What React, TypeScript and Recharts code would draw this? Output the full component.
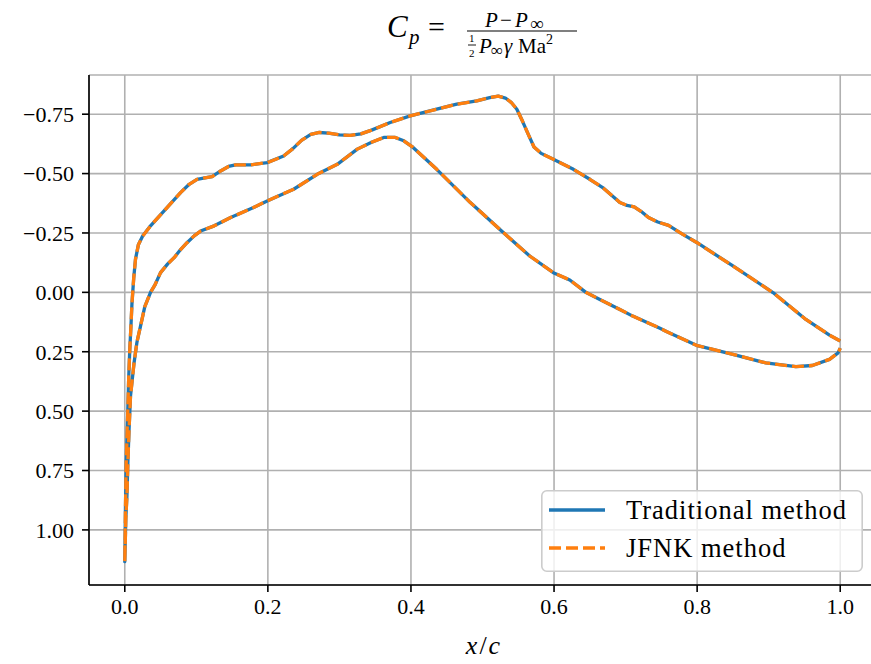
import React from 'react';
import { LineChart, Line, XAxis, YAxis, CartesianGrid, Legend } from 'recharts';

// Suction (upper) surface, leading edge -> trailing edge
const upperX = [
  0.0, 0.001, 0.002, 0.004, 0.0055, 0.007, 0.0085, 0.01, 0.0125, 0.015, 0.019, 0.025, 0.036,
  0.048, 0.06, 0.078, 0.09, 0.101, 0.112, 0.122, 0.134, 0.145, 0.155, 0.176, 0.199, 0.222,
  0.235, 0.247, 0.26, 0.272, 0.285, 0.3, 0.315, 0.33, 0.345, 0.371, 0.399, 0.436, 0.464,
  0.492, 0.51, 0.522, 0.532, 0.54, 0.548, 0.556, 0.564, 0.572, 0.582, 0.599, 0.627, 0.65,
  0.668, 0.68, 0.692, 0.702, 0.712, 0.722, 0.732, 0.745, 0.76, 0.78, 0.8, 0.85, 0.906,
  0.952, 0.985, 1.0,
];
const upperCp = [
  1.134, 0.9, 0.72, 0.52, 0.36, 0.24, 0.15, 0.05, -0.06, -0.14, -0.2, -0.237, -0.28,
  -0.32, -0.36, -0.42, -0.455, -0.476, -0.482, -0.487, -0.511, -0.53, -0.537, -0.537, -0.546, -0.574,
  -0.605, -0.64, -0.665, -0.673, -0.67, -0.663, -0.661, -0.667, -0.683, -0.715, -0.743, -0.771, -0.792,
  -0.806, -0.82, -0.826, -0.818, -0.8, -0.771, -0.72, -0.665, -0.612, -0.585, -0.56, -0.518, -0.476,
  -0.441, -0.41, -0.378, -0.366, -0.36, -0.34, -0.315, -0.296, -0.282, -0.244, -0.209, -0.111, 0.001,
  0.114, 0.18, 0.205,
];

// Pressure (lower) surface, leading edge -> trailing edge
const lowerX = [
  0.0, 0.0015, 0.003, 0.0045, 0.006, 0.008, 0.013, 0.017, 0.022, 0.028, 0.036, 0.042, 0.05,
  0.06, 0.069, 0.078, 0.087, 0.097, 0.106, 0.125, 0.148, 0.18, 0.199, 0.236, 0.269, 0.297,
  0.325, 0.345, 0.362, 0.378, 0.39, 0.403, 0.436, 0.483, 0.529, 0.566, 0.599, 0.622, 0.645,
  0.664, 0.692, 0.71, 0.748, 0.757, 0.799, 0.85, 0.896, 0.938, 0.961, 0.985, 0.997, 1.0,
];
const lowerCp = [
  1.134, 0.95, 0.858, 0.7, 0.577, 0.437, 0.296, 0.21, 0.142, 0.06, 0.0, -0.03, -0.083,
  -0.12, -0.146, -0.18, -0.209, -0.238, -0.258, -0.28, -0.315, -0.357, -0.385, -0.434, -0.497, -0.539,
  -0.603, -0.632, -0.652, -0.652, -0.638, -0.61, -0.518, -0.378, -0.252, -0.153, -0.083, -0.052, 0.001,
  0.03, 0.072, 0.1, 0.151, 0.165, 0.223, 0.261, 0.297, 0.313, 0.308, 0.282, 0.255, 0.235,
];

const xTicks = [0, 0.2, 0.4, 0.6, 0.8, 1.0];
const yTicks = [-0.75, -0.5, -0.25, 0, 0.25, 0.5, 0.75, 1.0];
const seriesNames = ['Traditional method', 'JFNK method'];
const seriesColors = ['#1f77b4', '#ff7f0e'];

// closed loop: trailing edge -> upper -> leading edge -> lower -> trailing edge
const loopX = [...upperX].reverse().concat(lowerX.slice(1));
const tradCp = [...upperCp].reverse().concat(lowerCp.slice(1));
const jfnkCp = tradCp.slice();
const data = loopX.map((x, i) => ({ x, trad: tradCp[i], jfnk: jfnkCp[i] }));

const FONT = '"Liberation Serif", "DejaVu Serif", serif';
const DASH = '12 5';

const fmtY = (v: number) => (v < 0 ? '\u2212' + Math.abs(v).toFixed(2) : v.toFixed(2));
const fmtX = (v: number) => v.toFixed(1);

const LegendBox = (props: any) => {
  const raw = props.payload || [];
  const items = seriesNames.map((name, i) => {
    const found = raw.find((it: any) => it.value === name);
    return { value: name, color: (found && found.color) || seriesColors[i], dashed: i === 1 };
  });
  return (
    <svg width={322} height={82} style={{ display: 'block' }}>
      <rect x={0.8} y={0.8} width={320.4} height={80.4} rx={5} ry={5} fill="rgba(255,255,255,0.8)" stroke="#cccccc" strokeWidth={1.6} />
      {items.map((it, i) => {
        const y = 20 + i * 38;
        return (
          <g key={i}>
            <line x1={8} x2={64} y1={y} y2={y} stroke={it.color} strokeWidth={3.3} strokeDasharray={it.dashed ? DASH : undefined} />
            <text x={85} y={y + 9} fontFamily={FONT} fontSize={26.5} letterSpacing={1} fill="#000">
              {it.value}
            </text>
          </g>
        );
      })}
    </svg>
  );
};

export default function App() {
  return (
    <div style={{ position: 'absolute', left: 0, top: 0, width: 871, height: 664, overflow: 'hidden', background: '#fff', fontFamily: FONT }}>
      <LineChart width={880} height={664} data={data} margin={{ top: 75, right: 4, bottom: 0, left: 0 }}>
        <CartesianGrid stroke="#b0b0b0" strokeWidth={1.6} />
        <XAxis
          type="number"
          dataKey="x"
          domain={[-0.05, 1.05]}
          ticks={xTicks}
          tickFormatter={fmtX}
          height={79}
          axisLine={{ stroke: '#000', strokeWidth: 1.6 }}
          tickLine={{ stroke: '#000', strokeWidth: 1.6 }}
          tickSize={7}
          tickMargin={6}
          tick={{ fill: '#000', fontSize: 22, fontFamily: FONT }}
          allowDataOverflow
        />
        <XAxis
          xAxisId="top"
          orientation="top"
          type="number"
          dataKey="x"
          domain={[-0.05, 1.05]}
          height={0}
          tick={false}
          tickLine={false}
          axisLine={{ stroke: '#000', strokeWidth: 1.6 }}
          allowDataOverflow
        />
        <YAxis
          type="number"
          domain={[-0.915, 1.232]}
          reversed
          ticks={yTicks}
          tickFormatter={fmtY}
          width={89}
          axisLine={{ stroke: '#000', strokeWidth: 1.6 }}
          tickLine={{ stroke: '#000', strokeWidth: 1.6 }}
          tickSize={7}
          tickMargin={8}
          tick={{ fill: '#000', fontSize: 22, fontFamily: FONT }}
          allowDataOverflow
        />
        <Legend
          layout="vertical"
          align="center"
          verticalAlign="middle"
          wrapperStyle={{ position: 'absolute', left: 541, top: 490, width: 322, height: 82 }}
          content={<LegendBox />}
        />
        <Line
          name={seriesNames[0]}
          dataKey="trad"
          type="linear"
          stroke={seriesColors[0]}
          strokeWidth={3.3}
          dot={false}
          activeDot={false}
          strokeLinejoin="round"
          isAnimationActive={false}
        />
        <Line
          name={seriesNames[1]}
          dataKey="jfnk"
          type="linear"
          stroke={seriesColors[1]}
          strokeWidth={3.3}
          strokeDasharray={DASH}
          dot={false}
          activeDot={false}
          strokeLinejoin="round"
          isAnimationActive={false}
        />
      </LineChart>
      <svg width={871} height={664} style={{ position: 'absolute', left: 0, top: 0, pointerEvents: 'none' }}>
        {/* Title: C_p = (P - P_inf) / (1/2 P_inf gamma Ma^2) */}
        <g fontFamily={FONT} fill="#000">
          <text x={387} y={37} fontSize={31} fontStyle="italic">C</text>
          <text x={409} y={44} fontSize={21} fontStyle="italic">p</text>
          <text x={428} y={37} fontSize={30}>=</text>
          {/* numerator */}
          <text x={485} y={27} fontSize={21} fontStyle="italic">P</text>
          <text x={500} y={27} fontSize={21}>{'\u2212'}</text>
          <text x={515} y={27} fontSize={21} fontStyle="italic">P</text>
          <text x={530} y={30} fontSize={19}>{'\u221E'}</text>
          <line x1={467} x2={577} y1={31} y2={31} stroke="#000" strokeWidth={1.2} />
          {/* denominator: 1/2 */}
          <text x={469} y={42} fontSize={11}>1</text>
          <line x1={468} x2={476} y1={45} y2={45} stroke="#000" strokeWidth={0.9} />
          <text x={469} y={57} fontSize={11}>2</text>
          <text x={479} y={53} fontSize={21} fontStyle="italic">P</text>
          <text x={491} y={56} fontSize={17}>{'\u221E'}</text>
          <text x={504} y={53} fontSize={21} fontStyle="italic">{'\u03B3'}</text>
          <text x={518} y={53} fontSize={21}>Ma</text>
          <text x={546} y={44} fontSize={14}>2</text>
        </g>
        {/* x label */}
        <text x={483} y={654} textAnchor="middle" fontFamily={FONT} fontSize={26} fill="#000">
          <tspan fontStyle="italic">x</tspan>
          <tspan dx={2}>/</tspan>
          <tspan dx={2} fontStyle="italic">c</tspan>
        </text>
      </svg>
    </div>
  );
}
